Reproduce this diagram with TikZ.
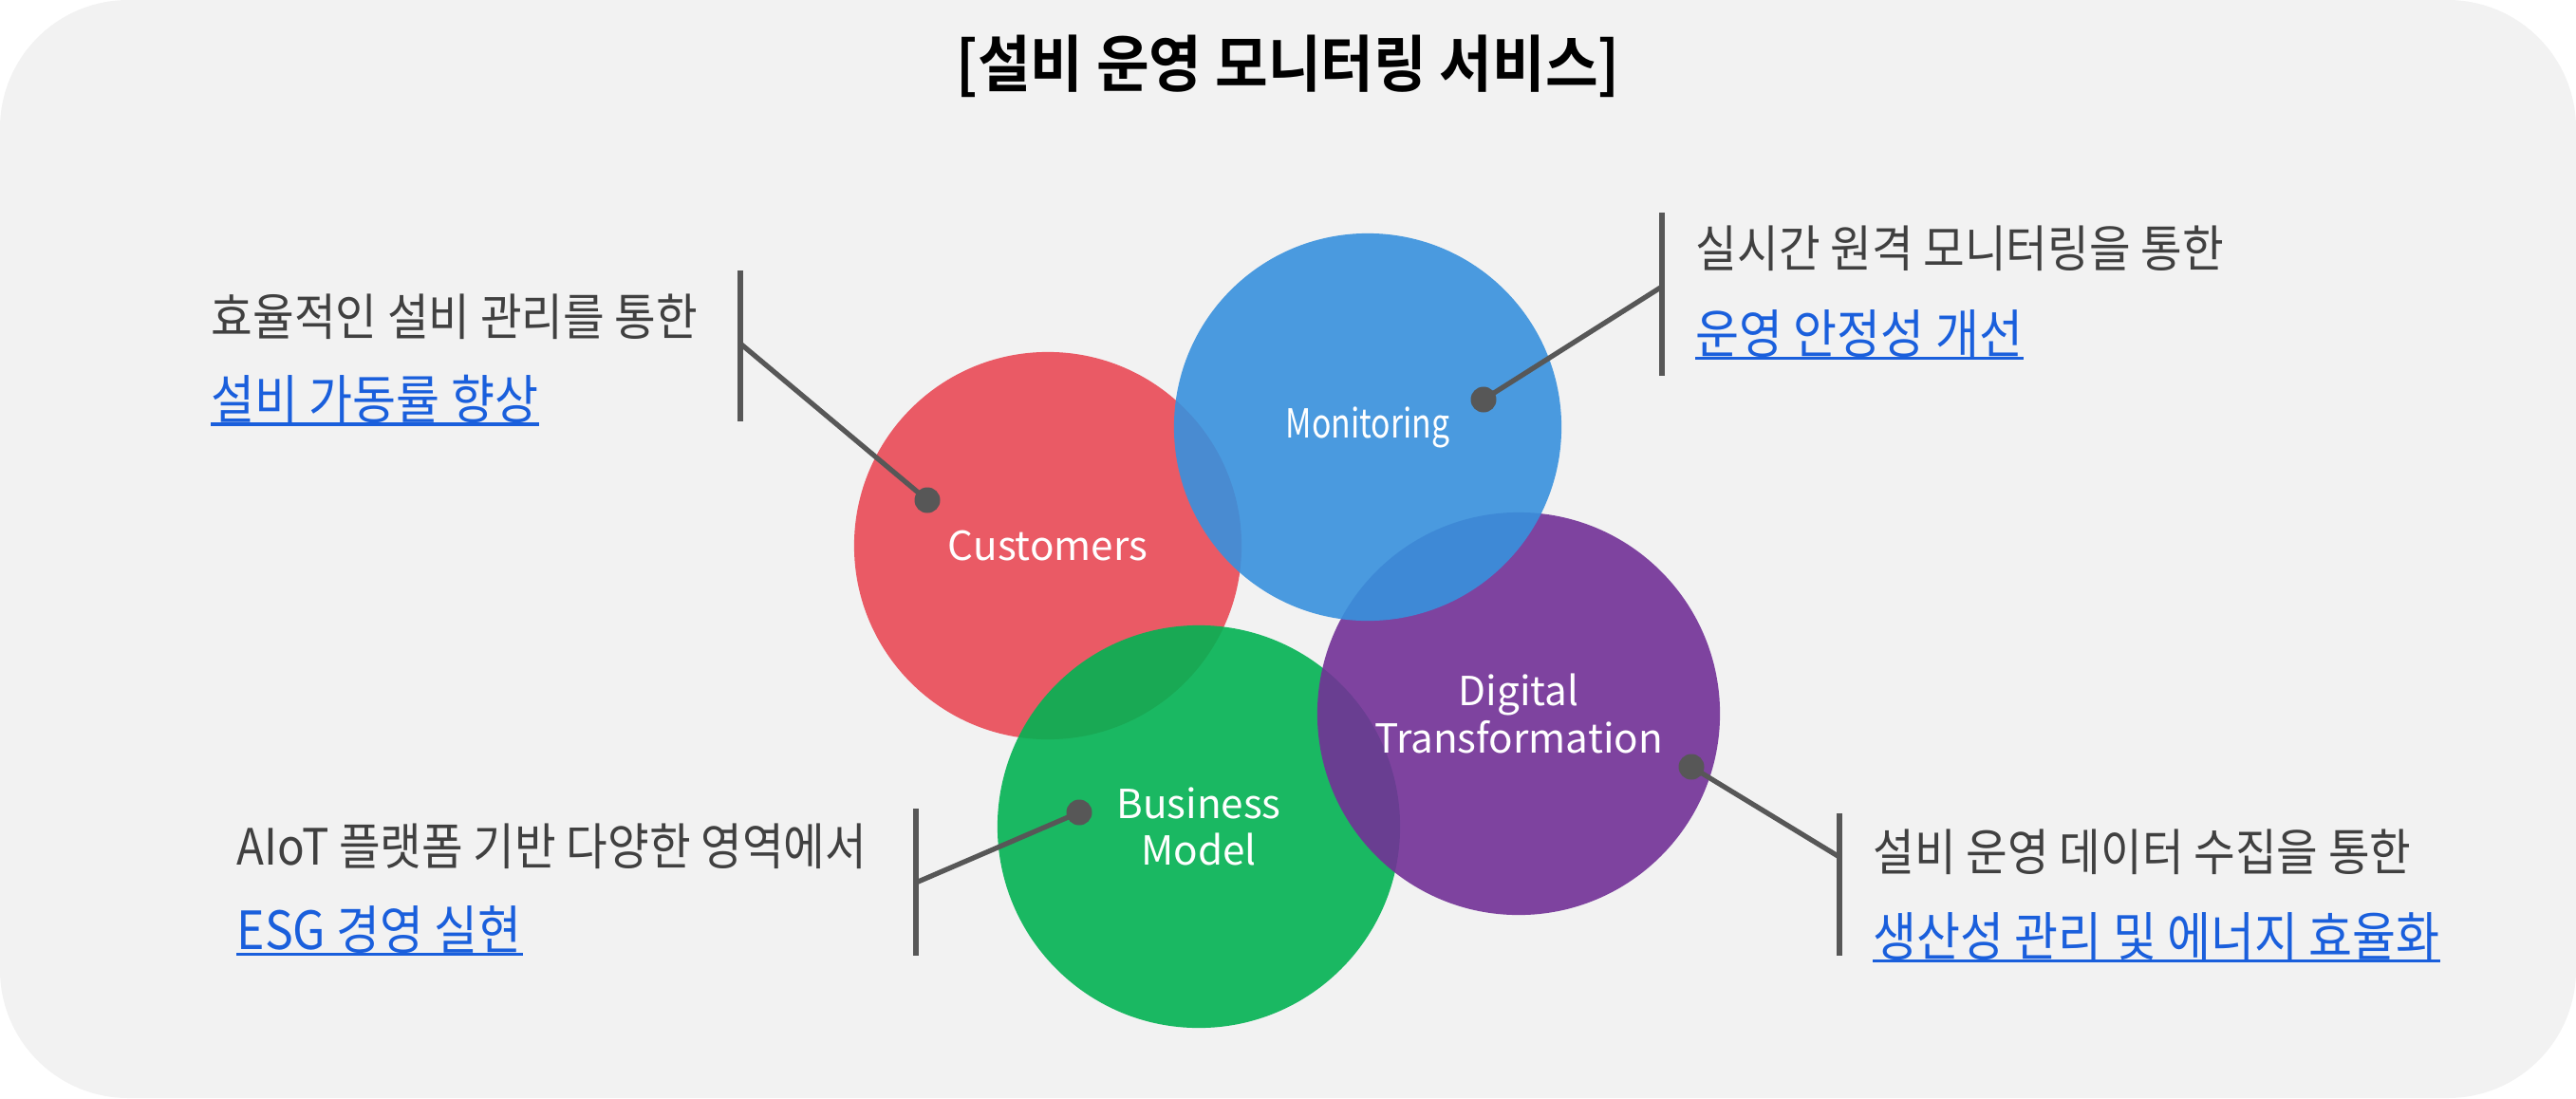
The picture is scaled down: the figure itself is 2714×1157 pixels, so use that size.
\documentclass[tikz,border=0pt]{standalone}
\usepackage{fontspec}
\setmainfont{Noto Sans CJK KR}
\newfontfamily\callfont{Noto Sans CJK KR}[FakeStretch=0.9]
\newfontfamily\tightfont{Noto Sans CJK KR}[FakeStretch=0.8]
\newfontfamily\headfont{Noto Sans CJK KR Bold}[FakeStretch=0.93]
\definecolor{paper}{HTML}{F2F2F2}
\definecolor{custred}{HTML}{EA4A56}
\definecolor{bizgreen}{HTML}{03B253}
\definecolor{digpurple}{HTML}{723197}
\definecolor{monblue}{HTML}{3891DD}
\definecolor{textgray}{HTML}{404040}
\definecolor{linkblue}{HTML}{1A5FDC}
\definecolor{linegray}{HTML}{575757}

\begin{document}
\begin{tikzpicture}[x=0.01cm,y=-0.01cm]
      \tikzstyle bubble=[circle, inner sep=0pt, fill opacity=0.9, text opacity=1,
      text=white, align=center, font=\fontsize{12}{14}\selectfont]
      \tikzstyle knob=[circle, fill=linegray, inner sep=0pt, minimum size=0.27cm]
      \tikzstyle leader=[linegray, line width=1.5pt]
      \tikzstyle bar=[linegray, line width=1.8pt]
      \tikzstyle note=[anchor=west, inner sep=0pt, text=textgray,
      font=\callfont\fontsize{15}{17}\selectfont]
      \tikzstyle link=[note, text=linkblue, font=\callfont\fontsize{15.8}{18}\selectfont]
      \tikzstyle rule=[linkblue, line width=0.9pt, yshift=-2pt]
      \useasboundingbox (0,0) rectangle (2714,1157);
      \fill [paper, rounded corners=1.35cm] (0,0) rectangle (2714,1157);
      \node [inner sep=0pt, font=\headfont\fontsize{18.5}{21}\selectfont] (title) at (1357,70) {[설비 운영 모니터링 서비스]};
      \node [bubble, fill=custred, minimum size=4.08cm] (cust) at (1104,575) {Customers};
      \node [bubble, fill=bizgreen, minimum size=4.24cm] (biz) at (1263,871) {Business\\Model};
      \node [bubble, fill=digpurple, minimum size=4.24cm] (dig) at (1600,752) {Digital\\Transformation};
      \node [bubble, fill=monblue, minimum size=4.08cm] (mon) at (1441,450) {\tightfont Monitoring};
      \node [knob] (kcust) at (977,527) {};
      \node [knob] (kmon) at (1563,421) {};
      \node [knob] (kbiz) at (1137,856) {};
      \node [knob] (kdig) at (1782,808) {};
      \coordinate (jcust) at (780,362);
      \coordinate (jmon) at (1751,302);
      \coordinate (jbiz) at (965,930);
      \coordinate (jdig) at (1938,903);
      \draw [leader] (kcust.center) -- (jcust);
      \draw [leader] (kmon.center) -- (jmon);
      \draw [leader] (kbiz.center) -- (jbiz);
      \draw [leader] (kdig.center) -- (jdig);
      \draw [bar] (780,285) -- (780,444);
      \draw [bar] (1751,224) -- (1751,396);
      \draw [bar] (965,852) -- (965,1007);
      \draw [bar] (1938,857) -- (1938,1007);
      \node [note] (ncust) at (222,334) {효율적인 설비 관리를 통한};
      \node [link] (lcust) at (222,421) {설비 가동률 향상};
      \node [note] (nmon) at (1786,262) {실시간 원격 모니터링을 통한};
      \node [link] (lmon) at (1786,352) {운영 안정성 개선};
      \node [note] (nbiz) at (249,892) {AIoT 플랫폼 기반 다양한 영역에서};
      \node [link] (lbiz) at (249,980) {ESG 경영 실현};
      \node [note] (ndig) at (1973,898) {설비 운영 데이터 수집을 통한};
      \node [link] (ldig) at (1973,987) {생산성 관리 및 에너지 효율화};
      \draw [rule] (lcust.south west) -- (lcust.south east);
      \draw [rule] (lmon.south west) -- (lmon.south east);
      \draw [rule] (lbiz.south west) -- (lbiz.south east);
      \draw [rule] (ldig.south west) -- (ldig.south east);
    \end{tikzpicture}
\end{document}
